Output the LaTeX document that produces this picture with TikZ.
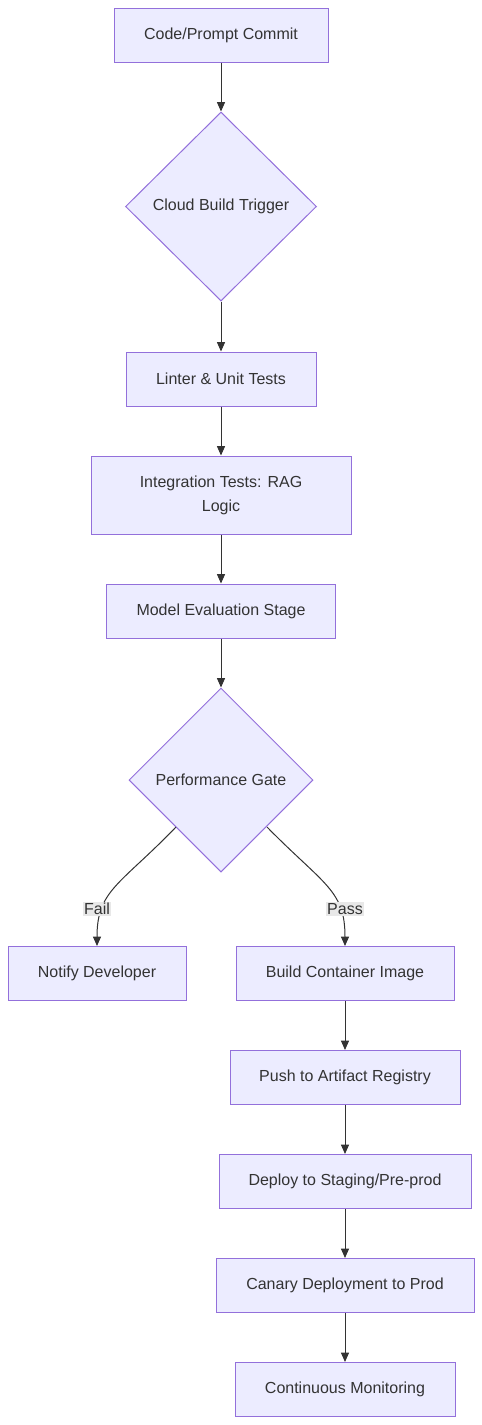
\documentclass[tikz,border=0pt]{standalone}
\usepackage{fontspec}
\setmainfont{Liberation Sans}
\usetikzlibrary{shapes.geometric,arrows.meta}
\definecolor{nodefill}{HTML}{ECECFF}
\definecolor{nodeline}{HTML}{9370DB}
\definecolor{txt}{HTML}{333333}
\definecolor{lblbg}{HTML}{E8E8E8}
\begin{document}
\begin{tikzpicture}[x=0.75pt,y=-0.75pt,
  box/.style={draw=nodeline,fill=nodefill,line width=0.75pt,text=txt,font=\fontsize{12}{18}\selectfont,align=center,inner sep=0pt,minimum height=40.5pt},
  dia/.style={diamond,draw=nodeline,fill=nodefill,line width=0.75pt,text=txt,font=\fontsize{12}{18}\selectfont,inner sep=0pt},
  arr/.style={draw=txt,line width=0.75pt,-{Triangle[length=7pt,width=6pt]}},
  lbl/.style={fill=lblbg,text=txt,font=\fontsize{12}{18}\selectfont,inner sep=1pt}]
\useasboundingbox (0,0) rectangle (482,1425);
\node[box,minimum width=160.5pt] (a) at (221,35) {Code/Prompt Commit};
\node[dia,minimum width=143.25pt,minimum height=141.75pt] (b) at (221,206.5) {Cloud Build Trigger};
\node[box,minimum width=142.5pt] (c) at (221,379) {Linter \& Unit Tests};
\node[box,minimum width=195pt,minimum height=58.5pt] (d) at (221,495) {Integration Tests: RAG\\Logic};
\node[box,minimum width=171.75pt] (e) at (221,611) {Model Evaluation Stage};
\node[dia,minimum width=138pt,minimum height=138pt] (f) at (221,780) {Performance Gate};
\node[box,minimum width=133.5pt] (g) at (97,973.5) {Notify Developer};
\node[box,minimum width=163.5pt] (h) at (345,973.5) {Build Container Image};
\node[box,minimum width=172.5pt] (i) at (345,1077.5) {Push to Artifact Registry};
\node[box,minimum width=189pt] (j) at (345,1181.5) {Deploy to Staging/Pre-prod};
\node[box,minimum width=193.5pt] (k) at (345,1285.5) {Canary Deployment to Prod};
\node[box,minimum width=165pt] (l) at (345,1389.5) {Continuous Monitoring};
\draw[arr] (a) -- (b);
\draw[arr] (b) -- (c);
\draw[arr] (c) -- (d);
\draw[arr] (d) -- (e);
\draw[arr] (e) -- (f);
\coordinate (fl) at (176,827);
\coordinate (fr) at (267,827);
\draw[arr] (fl) .. controls (120,885) and (97,890) .. (g.north);
\draw[arr] (fr) .. controls (324,885) and (345,890) .. (h.north);
\node[lbl] (lf) at (97,909) {Fail};
\node[lbl] (lp) at (345,909) {Pass};
\draw[arr] (h) -- (i);
\draw[arr] (i) -- (j);
\draw[arr] (j) -- (k);
\draw[arr] (k) -- (l);
\end{tikzpicture}
\end{document}
